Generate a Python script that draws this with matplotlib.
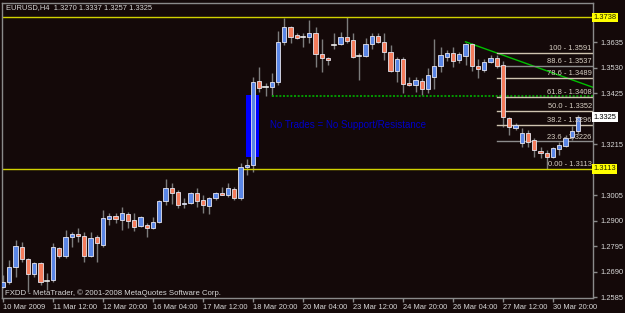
import matplotlib
matplotlib.use("Agg")
import matplotlib.pyplot as plt
from matplotlib.patches import Rectangle

# EURUSD H4 bars
opens = [1.2626, 1.2647, 1.2709, 1.2791, 1.2742, 1.2680, 1.2725, 1.2651, 1.2655, 1.2787,
         1.2754, 1.2832, 1.2845, 1.2837, 1.2754, 1.2832, 1.2799, 1.2907, 1.2919, 1.2903,
         1.2927, 1.2903, 1.2878, 1.2882, 1.2870, 1.2894, 1.2981, 1.3035, 1.3018, 1.2969,
         1.2973, 1.3014, 1.2985, 1.2960, 1.2993, 1.3014, 1.3006, 1.3030, 1.2993, 1.3121,
         1.3129, 1.3476, 1.3451, 1.3451, 1.3472, 1.3637, 1.3698, 1.3665, 1.3657, 1.3657,
         1.3674, 1.3587, 1.3571, 1.3624, 1.3628, 1.3657, 1.3645, 1.3579, 1.3579, 1.3628,
         1.3661, 1.3637, 1.3595, 1.3517, 1.3567, 1.3468, 1.3459, 1.3476, 1.3443, 1.3492,
         1.3538, 1.3575, 1.3591, 1.3562, 1.3579, 1.3628, 1.3538, 1.3521, 1.3554, 1.3571,
         1.3542, 1.3323, 1.3282, 1.3220, 1.3261, 1.3232, 1.3187, 1.3179, 1.3162, 1.3195,
         1.3208, 1.3245, 1.3270]
highs = [1.2676, 1.2738, 1.2820, 1.2812, 1.2746, 1.2729, 1.2729, 1.2684, 1.2808, 1.2791,
         1.2861, 1.2853, 1.2870, 1.2853, 1.2853, 1.2841, 1.2944, 1.2931, 1.2931, 1.2956,
         1.2936, 1.2930, 1.2919, 1.2890, 1.2915, 1.2985, 1.3072, 1.3055, 1.3026, 1.2993,
         1.3018, 1.3035, 1.3006, 1.2997, 1.3018, 1.3039, 1.3055, 1.3039, 1.3138, 1.3154,
         1.3492, 1.3534, 1.3468, 1.3509, 1.3682, 1.3736, 1.3703, 1.3674, 1.3674, 1.3727,
         1.3698, 1.3649, 1.3575, 1.3674, 1.3678, 1.3740, 1.3674, 1.3591, 1.3653, 1.3674,
         1.3674, 1.3674, 1.3624, 1.3575, 1.3575, 1.3492, 1.3492, 1.3488, 1.3529, 1.3649,
         1.3616, 1.3604, 1.3616, 1.3595, 1.3632, 1.3632, 1.3567, 1.3567, 1.3583, 1.3583,
         1.3558, 1.3327, 1.3303, 1.3282, 1.3274, 1.3241, 1.3204, 1.3191, 1.3204, 1.3224,
         1.3253, 1.3290, 1.3337]
lows = [1.2622, 1.2639, 1.2667, 1.2729, 1.2606, 1.2667, 1.2634, 1.2614, 1.2647, 1.2746,
        1.2746, 1.2791, 1.2812, 1.2729, 1.2750, 1.2729, 1.2791, 1.2882, 1.2890, 1.2861,
        1.2870, 1.2857, 1.2874, 1.2832, 1.2865, 1.2890, 1.2965, 1.2969, 1.2952, 1.2952,
        1.2969, 1.2956, 1.2931, 1.2927, 1.2985, 1.3004, 1.2997, 1.2985, 1.2985, 1.3088,
        1.3100, 1.3430, 1.3414, 1.3414, 1.3459, 1.3624, 1.3632, 1.3649, 1.3616, 1.3632,
        1.3534, 1.3513, 1.3542, 1.3608, 1.3624, 1.3632, 1.3571, 1.3480, 1.3575, 1.3608,
        1.3632, 1.3562, 1.3513, 1.3472, 1.3426, 1.3455, 1.3430, 1.3418, 1.3426, 1.3443,
        1.3513, 1.3558, 1.3534, 1.3550, 1.3542, 1.3517, 1.3488, 1.3513, 1.3550, 1.3529,
        1.3286, 1.3253, 1.3274, 1.3204, 1.3204, 1.3162, 1.3158, 1.3113, 1.3158, 1.3171,
        1.3204, 1.3232, 1.3257]
closes = [1.2647, 1.2709, 1.2795, 1.2742, 1.2680, 1.2725, 1.2647, 1.2650, 1.2791, 1.2754,
          1.2832, 1.2845, 1.2837, 1.2754, 1.2828, 1.2808, 1.2911, 1.2919, 1.2907, 1.2931,
          1.2898, 1.2874, 1.2915, 1.2870, 1.2894, 1.2981, 1.3035, 1.3014, 1.2964, 1.2973,
          1.3014, 1.2981, 1.2964, 1.2993, 1.3014, 1.3006, 1.3035, 1.2993, 1.3121, 1.3129,
          1.3472, 1.3447, 1.3450, 1.3472, 1.3637, 1.3698, 1.3657, 1.3653, 1.3658, 1.3674,
          1.3587, 1.3571, 1.3562, 1.3625, 1.3657, 1.3641, 1.3575, 1.3578, 1.3628, 1.3661,
          1.3637, 1.3595, 1.3517, 1.3567, 1.3463, 1.3459, 1.3480, 1.3443, 1.3501, 1.3538,
          1.3583, 1.3591, 1.3558, 1.3587, 1.3628, 1.3538, 1.3525, 1.3554, 1.3571, 1.3538,
          1.3327, 1.3286, 1.3294, 1.3261, 1.3224, 1.3191, 1.3179, 1.3162, 1.3199, 1.3212,
          1.3241, 1.3270, 1.3325]

date_labels = ["10 Mar 2009", "11 Mar 12:00", "12 Mar 20:00", "16 Mar 04:00",
               "17 Mar 12:00", "18 Mar 20:00", "20 Mar 04:00", "23 Mar 12:00",
               "24 Mar 20:00", "26 Mar 04:00", "27 Mar 12:00", "30 Mar 20:00"]
bars_per_label = 8

price_ticks = [1.2585, 1.2690, 1.2795, 1.2900, 1.3005, 1.3110, 1.3215, 1.3320,
               1.3425, 1.3530, 1.3635]

# fibonacci retracement
fib_levels = ["100", "88.6", "78.6", "61.8", "50.0", "38.2", "23.6", "0.00"]
fib_prices = [1.3591, 1.3537, 1.3489, 1.3408, 1.3352, 1.3296, 1.3226, 1.3113]
fib_start = 79

# other objects
yellow_lines = [1.3738, 1.3113]
support_price = 1.3414
support_start = 43
trend_bars = [74, 79]
trend_prices = [1.3637, 1.3591]
box_bars = [38.9, 41.0]
box_prices = [1.3162, 1.3418]
note_bar = 42.7
note_price = 1.3294

bg = "#140909"
bull = "#5a86e6"
bear = "#f47c5c"
wick = "#7c7c7c"
fg = "#d8d8d8"

fig = plt.figure(figsize=(6.25, 3.13), dpi=100, facecolor=bg)
ax = fig.add_axes([0.0032, 0.048, 0.9456, 0.9425], facecolor=bg)
xmin, xmax = -0.16, 94.4
ax.set_xlim(xmin, xmax)
ax.set_ylim(1.2581, 1.3797)

font = "Liberation Sans"

# blue "no trades" box behind candles
ax.add_patch(Rectangle((box_bars[0], box_prices[0]), box_bars[1] - box_bars[0],
                       box_prices[1] - box_prices[0], facecolor="#0000ff",
                       edgecolor="none", zorder=1))

# candles
w = 0.68
for i in range(len(opens)):
    o, h, l, c = opens[i], highs[i], lows[i], closes[i]
    ax.plot([i, i], [l, h], color=wick, lw=1, zorder=2, solid_capstyle="butt")
    if abs(c - o) < 0.0003:
        ax.plot([i - w / 2, i + w / 2], [c, c], color="#f0f0f0", lw=1.2, zorder=3)
    else:
        col = bull if c > o else bear
        ax.add_patch(Rectangle((i - w / 2, min(o, c)), w, abs(c - o),
                               facecolor=col, edgecolor="#e6e6f0", lw=0.6, zorder=3))

# yellow horizontal lines
for p in yellow_lines:
    ax.axhline(p, color="#d2d200", lw=1, zorder=2)
    ax.text(1.001, p, "%.4f" % p, transform=ax.get_yaxis_transform(), fontsize=5.4,
            family=font, color="#202000", va="center", ha="left",
            bbox=dict(boxstyle="square,pad=0.15", fc="#ffff00", ec="none"), zorder=5)

# green dotted support line
ax.plot([support_start, xmax], [support_price, support_price], color="#00b000",
        lw=1.2, ls=(0, (1.2, 1.0)), zorder=2)

# green trend line, extended to the right edge
slope = (trend_prices[1] - trend_prices[0]) / (trend_bars[1] - trend_bars[0])
ax.plot([trend_bars[0], xmax], [trend_prices[0], trend_prices[0] + slope * (xmax - trend_bars[0])],
        color="#00c000", lw=1, zorder=2)

# fib lines and labels
for lev, p in zip(fib_levels, fib_prices):
    lc = "#8c8c8c" if lev in ("88.6", "23.6") else "#cfc4b0"
    if lev != "0.00":
        ax.plot([fib_start, xmax], [p, p], color=lc, lw=1, zorder=2)
    ax.text(xmax - 0.2, p + 0.0004, "%s - %.4f" % (lev, p), fontsize=5.4, family=font,
            color="#d8d0c4", ha="right", va="bottom", zorder=4)

ax.text(note_bar, note_price, "No Trades = No Support/Resistance", fontsize=7, family=font,
        color="#0000c8", va="center", ha="left", zorder=4)

# current price label
ax.text(1.001, closes[-1], "%.4f" % closes[-1], transform=ax.get_yaxis_transform(),
        fontsize=5.4, family=font, color="black", va="center", ha="left",
        bbox=dict(boxstyle="square,pad=0.2", fc="white", ec="none"), zorder=5)

# axes
for s in ax.spines.values():
    s.set_color("#8a8a8a")
    s.set_linewidth(1)
ax.yaxis.tick_right()
ax.set_yticks(price_ticks)
ax.set_yticklabels(["" if abs(p - 1.3320) < 1e-6 or abs(p - 1.3110) < 1e-6 else "%.4f" % p
                    for p in price_ticks])
ax.set_xticks(range(0, bars_per_label * len(date_labels), bars_per_label))
ax.set_xticklabels(date_labels)
ax.tick_params(colors="#8a8a8a", length=3, width=1, labelsize=5.4, labelcolor=fg)
ax.tick_params(axis="y", pad=2)
ax.tick_params(axis="x", pad=1)
for t in ax.get_xticklabels():
    t.set_horizontalalignment("left")
    t.set_family(font)
for t in ax.get_yticklabels():
    t.set_family(font)

fig.text(6 / 625, 1 - 8 / 313, "EURUSD,H4  1.3270 1.3337 1.3257 1.3325", fontsize=5.4,
         family=font, color=fg, va="center", ha="left")
fig.text(5 / 625, 1 - 293 / 313, "FXDD - MetaTrader, \u00a9 2001-2008 MetaQuotes Software Corp.",
         fontsize=5.6, family=font, color=fg, va="center", ha="left")

fig.savefig("out.png", dpi=100, facecolor=bg)
